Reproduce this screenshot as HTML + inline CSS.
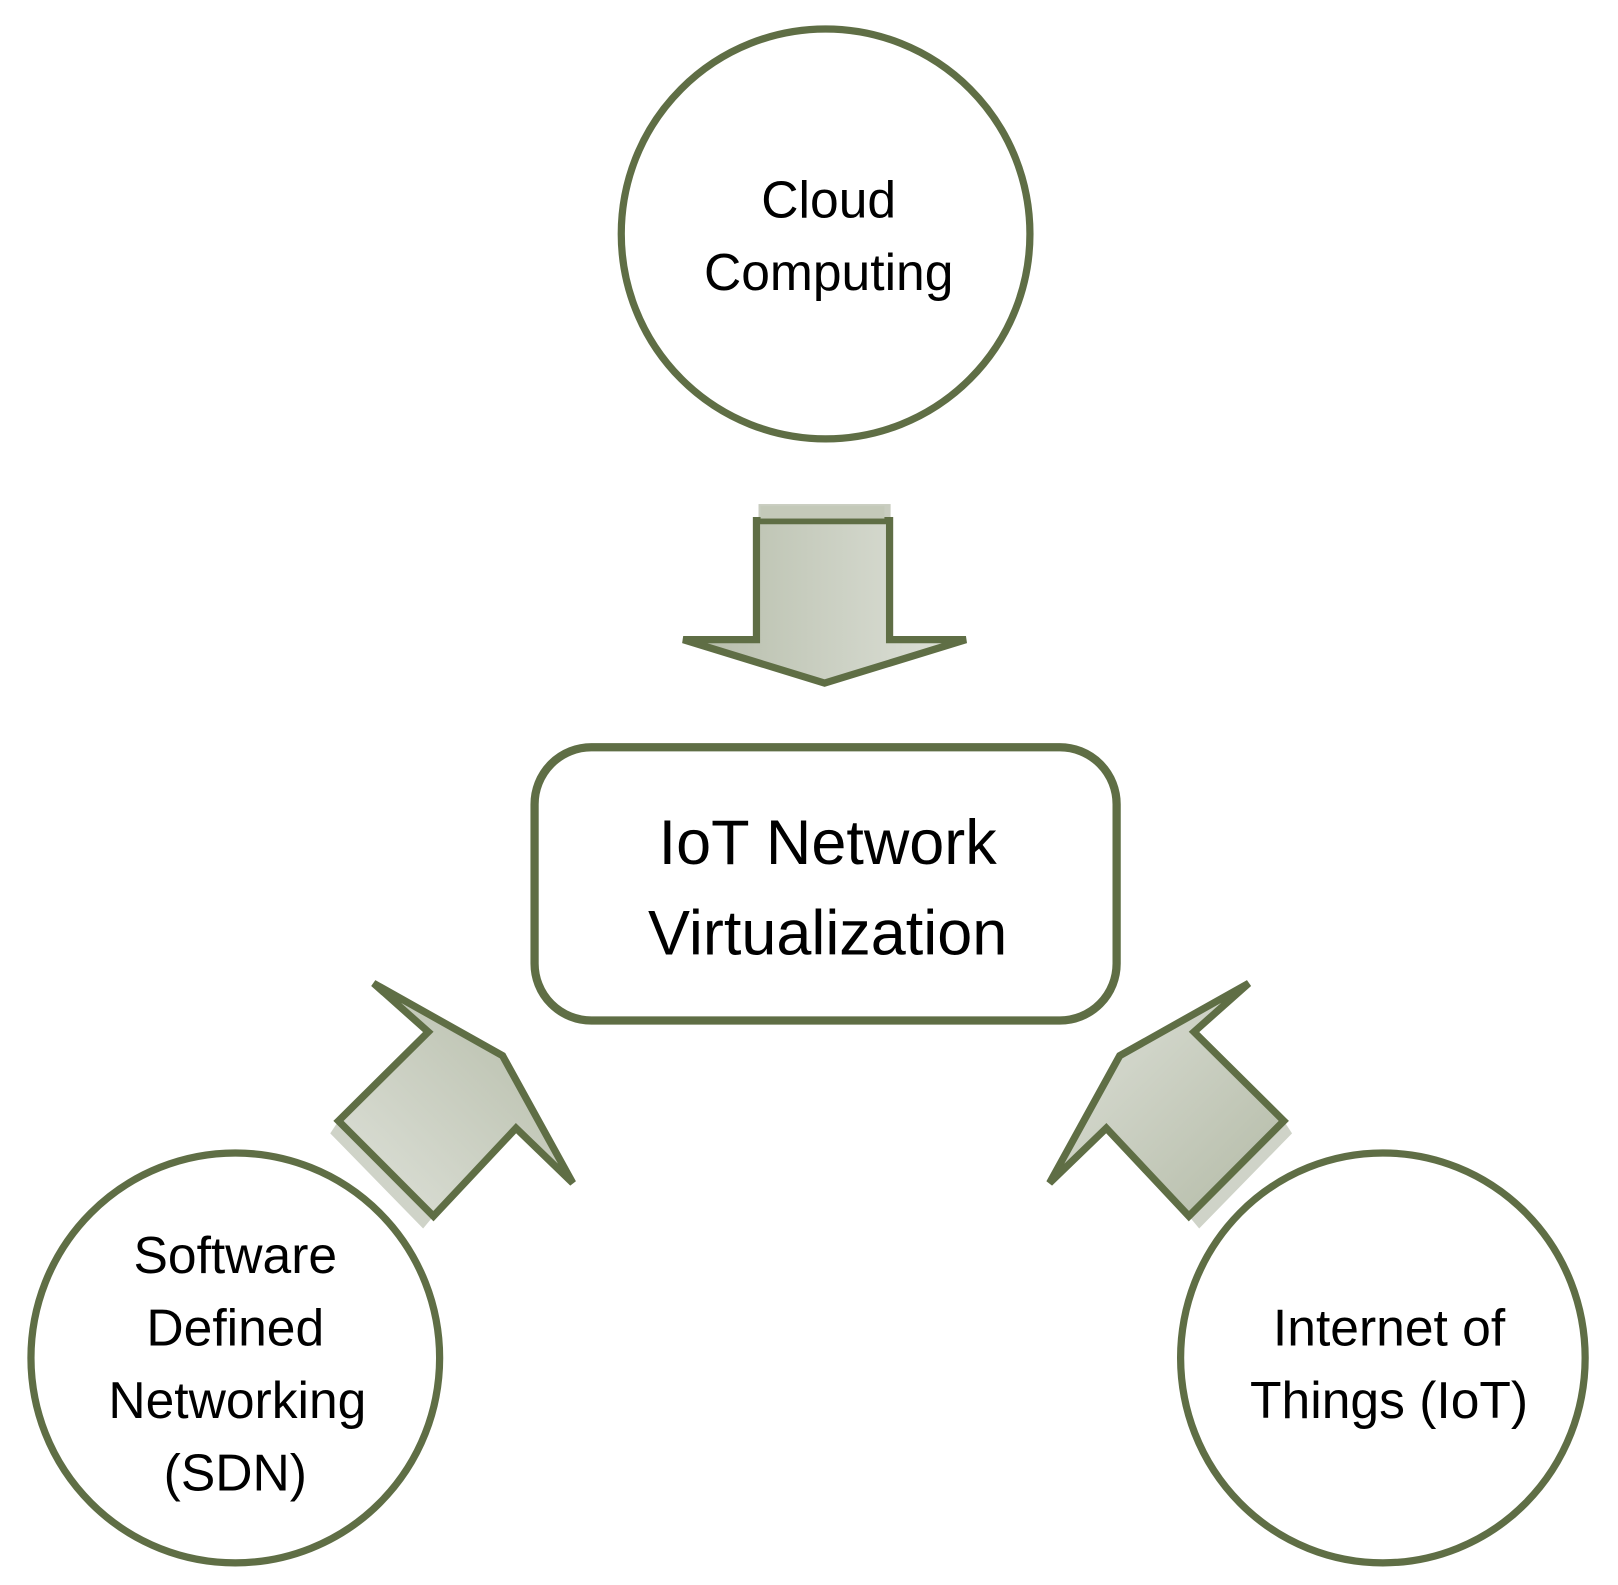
<!DOCTYPE html>
<html><head><meta charset="utf-8"><style>
html,body{margin:0;padding:0;background:#fff;}
svg{display:block;}
text{font-family:"Liberation Sans",sans-serif;fill:#000;text-anchor:middle;}
</style></head><body>
<svg width="1618" height="1585" viewBox="0 0 1618 1585" xmlns="http://www.w3.org/2000/svg">
<defs>
<linearGradient id="gv" x1="0" y1="0" x2="1" y2="0">
<stop offset="0" stop-color="#b5bca9"/><stop offset="1" stop-color="#dfe2da"/>
</linearGradient>
<linearGradient id="gl" x1="0" y1="1" x2="1" y2="0">
<stop offset="0" stop-color="#dfe2da"/><stop offset="1" stop-color="#b3baa6"/>
</linearGradient>
<linearGradient id="gr" x1="1" y1="1" x2="0" y2="0">
<stop offset="0" stop-color="#b3baa6"/><stop offset="1" stop-color="#dfe2da"/>
</linearGradient>
</defs>
<g transform="scale(1.032 1.035)">
<!-- Cloud circle -->
<ellipse cx="800" cy="226" rx="198" ry="198" fill="#fff" stroke="#5f6e45" stroke-width="7"/>
<text x="803" y="210" font-size="50">Cloud</text>
<text x="803" y="280" font-size="50">Computing</text>

<!-- Down arrow -->
<rect x="735" y="487" width="128" height="16" fill="#c9cdc0"/>
<polygon points="733,503 733,618 662,618 799,660 936,618 862,618 862,503" fill="url(#gv)" stroke="#5f6e45" stroke-width="7" stroke-linejoin="miter"/>
<rect x="737" y="489" width="120" height="12" fill="#c4c9b9"/>

<!-- Center rect -->
<rect x="518" y="722" width="564" height="264" rx="55" ry="55" fill="#fff" stroke="#5f6e45" stroke-width="8"/>
<text x="802" y="835" font-size="61">IoT Network</text>
<text x="802" y="922" font-size="61">Virtualization</text>

<!-- Left arrow -->
<polygon points="320,1095 410,1187 420,1175 328,1083" fill="#cfd3c8"/>
<polygon points="328,1083 415,997 362,950 487,1020 555,1143 500,1090 420,1175" fill="url(#gl)" stroke="#5f6e45" stroke-width="7"/>

<!-- Right arrow -->
<polygon points="1252,1095 1162,1187 1152,1175 1244,1083" fill="#cfd3c8"/>
<polygon points="1244,1083 1157,997 1210,950 1085,1020 1017,1143 1072,1090 1152,1175" fill="url(#gr)" stroke="#5f6e45" stroke-width="7"/>

<!-- SDN circle -->
<ellipse cx="228" cy="1312" rx="198" ry="198" fill="#fff" stroke="#5f6e45" stroke-width="7"/>
<text x="228" y="1230" font-size="50">Software</text>
<text x="228" y="1300" font-size="50">Defined</text>
<text x="230" y="1370" font-size="50">Networking</text>
<text x="228" y="1440" font-size="50">(SDN)</text>

<!-- IoT circle -->
<ellipse cx="1340" cy="1312" rx="196" ry="198" fill="#fff" stroke="#5f6e45" stroke-width="7"/>
<text x="1346" y="1300" font-size="50">Internet of</text>
<text x="1346" y="1370" font-size="50">Things (IoT)</text>
</g>
</svg>
</body></html>
